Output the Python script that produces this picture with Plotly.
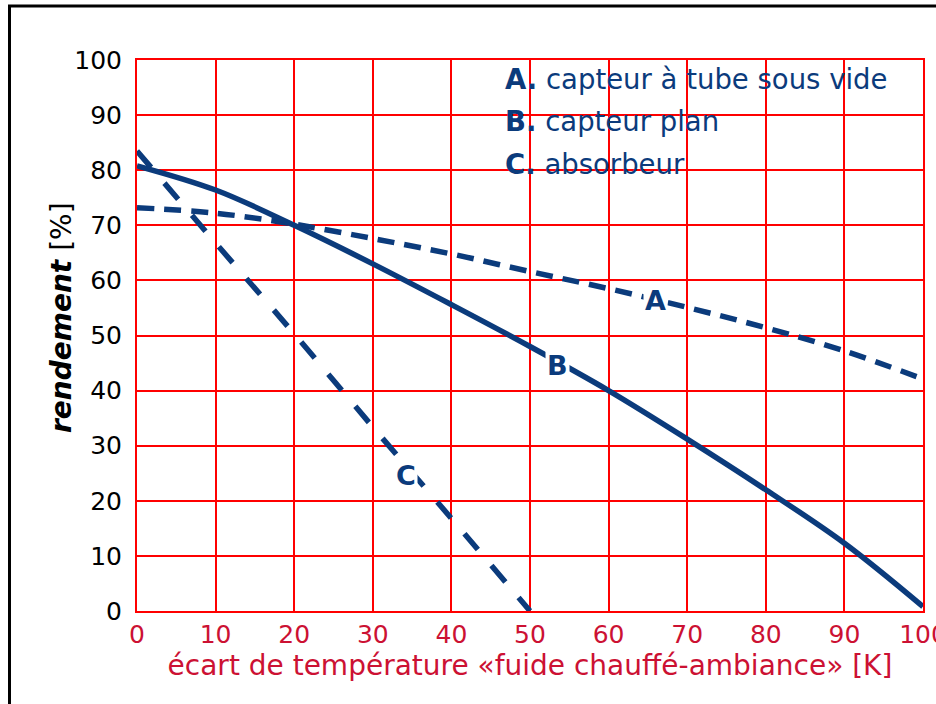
import plotly.graph_objects as go

# ---- data ----
x_ab = [0, 10, 20, 30, 40, 50, 60, 70, 80, 90, 100]
rend_A = [73.2, 72.2, 70.2, 67.6, 64.8, 61.6, 58.5, 55.1, 51.4, 47.2, 42.1]
rend_B = [80.8, 76.4, 70.0, 63.0, 55.6, 48.0, 40.0, 31.2, 22.0, 12.3, 0.8]
x_c = [0, 10, 20, 30, 40, 50]
rend_C = [83.5, 66.8, 50.3, 33.4, 16.8, 0.0]

x_ticks = [0, 10, 20, 30, 40, 50, 60, 70, 80, 90, 100]
y_ticks = [0, 10, 20, 30, 40, 50, 60, 70, 80, 90, 100]

legend_items = [("A.", "capteur à tube sous vide"),
                ("B.", "capteur plan"),
                ("C.", "absorbeur")]
curve_labels = [("A", 66.0, 56.3), ("B", 53.5, 44.6), ("C", 34.2, 24.6)]

x_title = "écart de température «fuide chauffé-ambiance» [K]"
y_title = "<b><i>rendement</i></b> [%]"

BLUE = "#0b3b7c"
RED = "#ff0000"
CRIMSON = "#cc1133"
FONT = "DejaVu Sans, Verdana, sans-serif"

fig = go.Figure()
fig.add_trace(go.Scatter(x=x_ab, y=rend_A, mode="lines", line_shape="spline",
                         line=dict(color=BLUE, width=5.5, dash="17px,10px"),
                         showlegend=False, hoverinfo="skip"))
fig.add_trace(go.Scatter(x=x_ab, y=rend_B, mode="lines", line_shape="spline",
                         line=dict(color=BLUE, width=5.5),
                         showlegend=False, hoverinfo="skip"))
fig.add_trace(go.Scatter(x=x_c, y=rend_C, mode="lines", line_shape="spline",
                         line=dict(color=BLUE, width=5.5, dash="21px,21px"),
                         showlegend=False, hoverinfo="skip"))

# plot-area pixel geometry
L, R, T, B = 137, 13, 60, 93
W, H = 936, 704
PW, PH = W - L - R, H - T - B

def px_x(p):
    return (p - L) / PW

def px_y(p):
    return (H - B - p) / PH

# white box behind the text legend (covers the grid)
fig.add_shape(type="rect", xref="paper", yref="paper",
              x0=px_x(506), x1=px_x(913), y0=px_y(184), y1=px_y(69),
              fillcolor="white", line=dict(width=0), layer="between")

# black outer frame (partially outside the picture)
fig.add_shape(type="rect", xref="paper", yref="paper",
              x0=px_x(9.5), x1=px_x(960), y0=px_y(730), y1=px_y(6),
              line=dict(color="black", width=3), fillcolor="rgba(0,0,0,0)",
              layer="above")

# legend text
legend_y = [79, 121.5, 163.5]
for (k, t), py in zip(legend_items, legend_y):
    fig.add_annotation(xref="paper", yref="paper", x=px_x(503), y=px_y(py),
                       xanchor="left", yanchor="middle", showarrow=False,
                       text=f"<b>{k}</b> {t}",
                       font=dict(family=FONT, size=27.5, color=BLUE))

# curve labels
for lab, lx, ly in curve_labels:
    fig.add_annotation(x=lx, y=ly, xref="x", yref="y", showarrow=False,
                       text=f"<b>{lab}</b>", bgcolor="white", borderpad=1,
                       font=dict(family=FONT, size=27, color=BLUE))

# y title
fig.add_annotation(xref="paper", yref="paper", x=px_x(61), y=px_y(318),
                   xanchor="center", yanchor="middle", textangle=-90,
                   showarrow=False, text=y_title,
                   font=dict(family=FONT, size=28, color="black"))

fig.update_xaxes(range=[0, 100], tickvals=x_ticks, ticktext=[str(v) for v in x_ticks],
                 showgrid=True, gridcolor=RED, gridwidth=2,
                 showline=True, linecolor=RED, linewidth=2, mirror=True,
                 zeroline=False, ticks="", ticklabelstandoff=0,
                 ticklabeloverflow="allow", automargin=False,
                 tickfont=dict(family=FONT, size=25, color=CRIMSON),
                 title=dict(text=x_title, standoff=2,
                            font=dict(family=FONT, size=28, color=CRIMSON)))
fig.update_yaxes(range=[0, 100], tickvals=y_ticks, ticktext=[str(v) for v in y_ticks],
                 showgrid=True, gridcolor=RED, gridwidth=2,
                 showline=True, linecolor=RED, linewidth=2, mirror=True,
                 zeroline=False, ticks="", ticklabelstandoff=8,
                 ticklabeloverflow="allow", automargin=False,
                 tickfont=dict(family=FONT, size=25, color="black"))

fig.update_layout(width=W, height=H,
                  margin=dict(l=L, r=R, t=T, b=B, pad=0, autoexpand=False),
                  paper_bgcolor="white", plot_bgcolor="white",
                  showlegend=False)

fig.write_html("out.html",
               config={"displayModeBar": False},
               post_script="document.body.style.margin='0';document.body.style.overflow='hidden';")
